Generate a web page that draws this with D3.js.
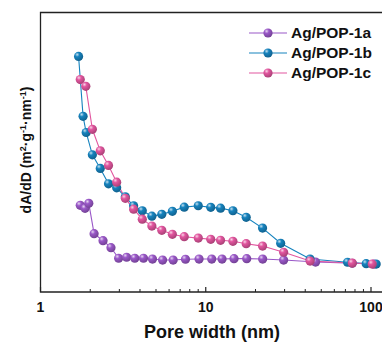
<!DOCTYPE html>
<html>
<head>
<meta charset="utf-8">
<script src="https://cdn.jsdelivr.net/npm/d3@7"></script>
<style>
  html, body { margin: 0; padding: 0; background: #fff; }
  svg { display: block; }
  text { font-family: Arial, "Liberation Sans", sans-serif; font-weight: bold; fill: #111; }
</style>
</head>
<body>
<svg id="chart" width="382" height="343"></svg>
<script>
// ---- data (pore width in nm, dA/dD in arbitrary units) ----
const seriesNames = ["Ag/POP-1a", "Ag/POP-1b", "Ag/POP-1c"];

const poreA = [1.74, 1.86, 1.96, 2.11, 2.39, 2.67, 2.97, 3.32, 3.72, 4.20, 4.76, 5.48, 6.35, 7.54, 9.11, 10.87, 12.55, 14.83, 17.7, 22.1, 29.6, 46.2, 77, 104];
const valA  = [4.34, 4.19, 4.44, 2.92, 2.57, 2.22, 1.69, 1.74, 1.69, 1.69, 1.65, 1.60, 1.60, 1.64, 1.65, 1.65, 1.65, 1.67, 1.67, 1.65, 1.60, 1.50, 1.44, 1.40];

const poreB = [1.70, 1.81, 1.89, 2.06, 2.30, 2.58, 2.89, 3.26, 3.66, 4.13, 4.72, 5.42, 6.28, 7.41, 9.01, 10.72, 12.29, 14.6, 17.57, 22.07, 28.4, 42.8, 72.1, 93.5, 107.5];
const valB  = [11.80, 8.80, 7.99, 6.87, 6.19, 5.42, 5.22, 4.77, 4.32, 4.07, 3.80, 3.89, 4.04, 4.25, 4.32, 4.24, 4.20, 4.07, 3.74, 3.20, 2.44, 1.65, 1.49, 1.42, 1.40];

const poreC = [1.74, 1.88, 2.06, 2.30, 2.58, 2.89, 3.26, 3.66, 4.13, 4.72, 5.42, 6.28, 7.41, 9.01, 10.72, 12.29, 14.6, 17.57, 22.07, 29.6, 42.8, 77, 101.7];
const valC  = [10.64, 10.30, 8.15, 7.07, 6.34, 5.50, 4.69, 4.15, 3.65, 3.30, 3.09, 2.89, 2.77, 2.70, 2.64, 2.59, 2.54, 2.42, 2.30, 1.99, 1.55, 1.45, 1.40];

const xTickValues = [1, 10, 100];
const xTickLabels = ["1", "10", "100"];
const xMinorTicks = [2,3,4,5,6,7,8,9,20,30,40,50,60,70,80,90];

const colors = ["#9a58c8", "#1683be", "#e2569f"];

// ---- layout ----
const svg = d3.select("#chart");
const mLeft = 40.5, mTop = 12.5, mBottom = 292;

const x = d3.scaleLog().domain([1, 100]).range([mLeft, 371]);
const y = d3.scaleLinear().domain([0, 14]).range([mBottom, mTop]);

const defs = svg.append("defs");
colors.forEach((c, i) => {
  const g = defs.append("radialGradient")
    .attr("id", "sph" + i).attr("cx", "35%").attr("cy", "30%").attr("r", "70%");
  g.append("stop").attr("offset", "0%").attr("stop-color", d3.interpolateRgb(c, "#fff")(0.75));
  g.append("stop").attr("offset", "35%").attr("stop-color", c);
  g.append("stop").attr("offset", "100%").attr("stop-color", d3.interpolateRgb(c, "#000")(0.25));
});

// frame (left, top, bottom); right edge lies outside the picture
const xRight = x(160);
svg.append("path")
  .attr("d", `M${xRight},${mTop}H${mLeft}V${mBottom}H${xRight}`)
  .attr("fill", "none").attr("stroke", "#222").attr("stroke-width", 1.3);

// bottom axis ticks (inward)
const axis = svg.append("g");
axis.selectAll("line.major").data(xTickValues).join("line").attr("class", "major")
  .attr("x1", d => x(d)).attr("x2", d => x(d))
  .attr("y1", mBottom).attr("y2", mBottom - 5)
  .attr("stroke", "#222").attr("stroke-width", 1.2);
axis.selectAll("line.minor").data(xMinorTicks).join("line").attr("class", "minor")
  .attr("x1", d => x(d)).attr("x2", d => x(d))
  .attr("y1", mBottom).attr("y2", mBottom - 3)
  .attr("stroke", "#222").attr("stroke-width", 1);
axis.selectAll("text").data(xTickValues).join("text")
  .attr("x", d => x(d)).attr("y", 312)
  .attr("text-anchor", "middle").attr("font-size", 14)
  .text((d, i) => xTickLabels[i]);

// axis titles
svg.append("text").attr("x", 212).attr("y", 338)
  .attr("text-anchor", "middle").attr("font-size", 18)
  .text("Pore width (nm)");

const yl = svg.append("text")
  .attr("transform", "translate(31,150) rotate(-90)")
  .attr("text-anchor", "middle").attr("font-size", 14);
yl.append("tspan").text("dA/dD (m");
yl.append("tspan").attr("font-size", 9).attr("dy", -5).text("2");
yl.append("tspan").attr("dy", 5).text("·g");
yl.append("tspan").attr("font-size", 9).attr("dy", -5).text("-1");
yl.append("tspan").attr("dy", 5).text("·nm");
yl.append("tspan").attr("font-size", 9).attr("dy", -5).text("-1");
yl.append("tspan").attr("dy", 5).text(")");

// series
const series = [
  { name: seriesNames[0], xs: poreA, ys: valA },
  { name: seriesNames[1], xs: poreB, ys: valB },
  { name: seriesNames[2], xs: poreC, ys: valC }
];
const line = d3.line().x(d => x(d[0])).y(d => y(d[1]));
const plot = svg.append("g");
series.forEach((s, i) => {
  const pts = s.xs.map((v, j) => [v, s.ys[j]]);
  plot.append("path").datum(pts).attr("d", line)
    .attr("fill", "none").attr("stroke", colors[i]).attr("stroke-width", 1.1);
});
series.forEach((s, i) => {
  const pts = s.xs.map((v, j) => [v, s.ys[j]]);
  plot.append("g").selectAll("circle").data(pts).join("circle")
    .attr("cx", d => x(d[0])).attr("cy", d => y(d[1])).attr("r", 4.6)
    .attr("fill", `url(#sph${i})`);
});

// legend
const lg = svg.append("g");
series.forEach((s, i) => {
  const cy = 33 + i * 20;
  lg.append("line").attr("x1", 249).attr("x2", 287).attr("y1", cy).attr("y2", cy)
    .attr("stroke", colors[i]).attr("stroke-width", 1.1);
  lg.append("circle").attr("cx", 268).attr("cy", cy).attr("r", 4.6)
    .attr("fill", `url(#sph${i})`);
  lg.append("text").attr("x", 291).attr("y", cy + 5.3)
    .attr("font-size", 15.5).text(s.name);
});
</script>
</body>
</html>
